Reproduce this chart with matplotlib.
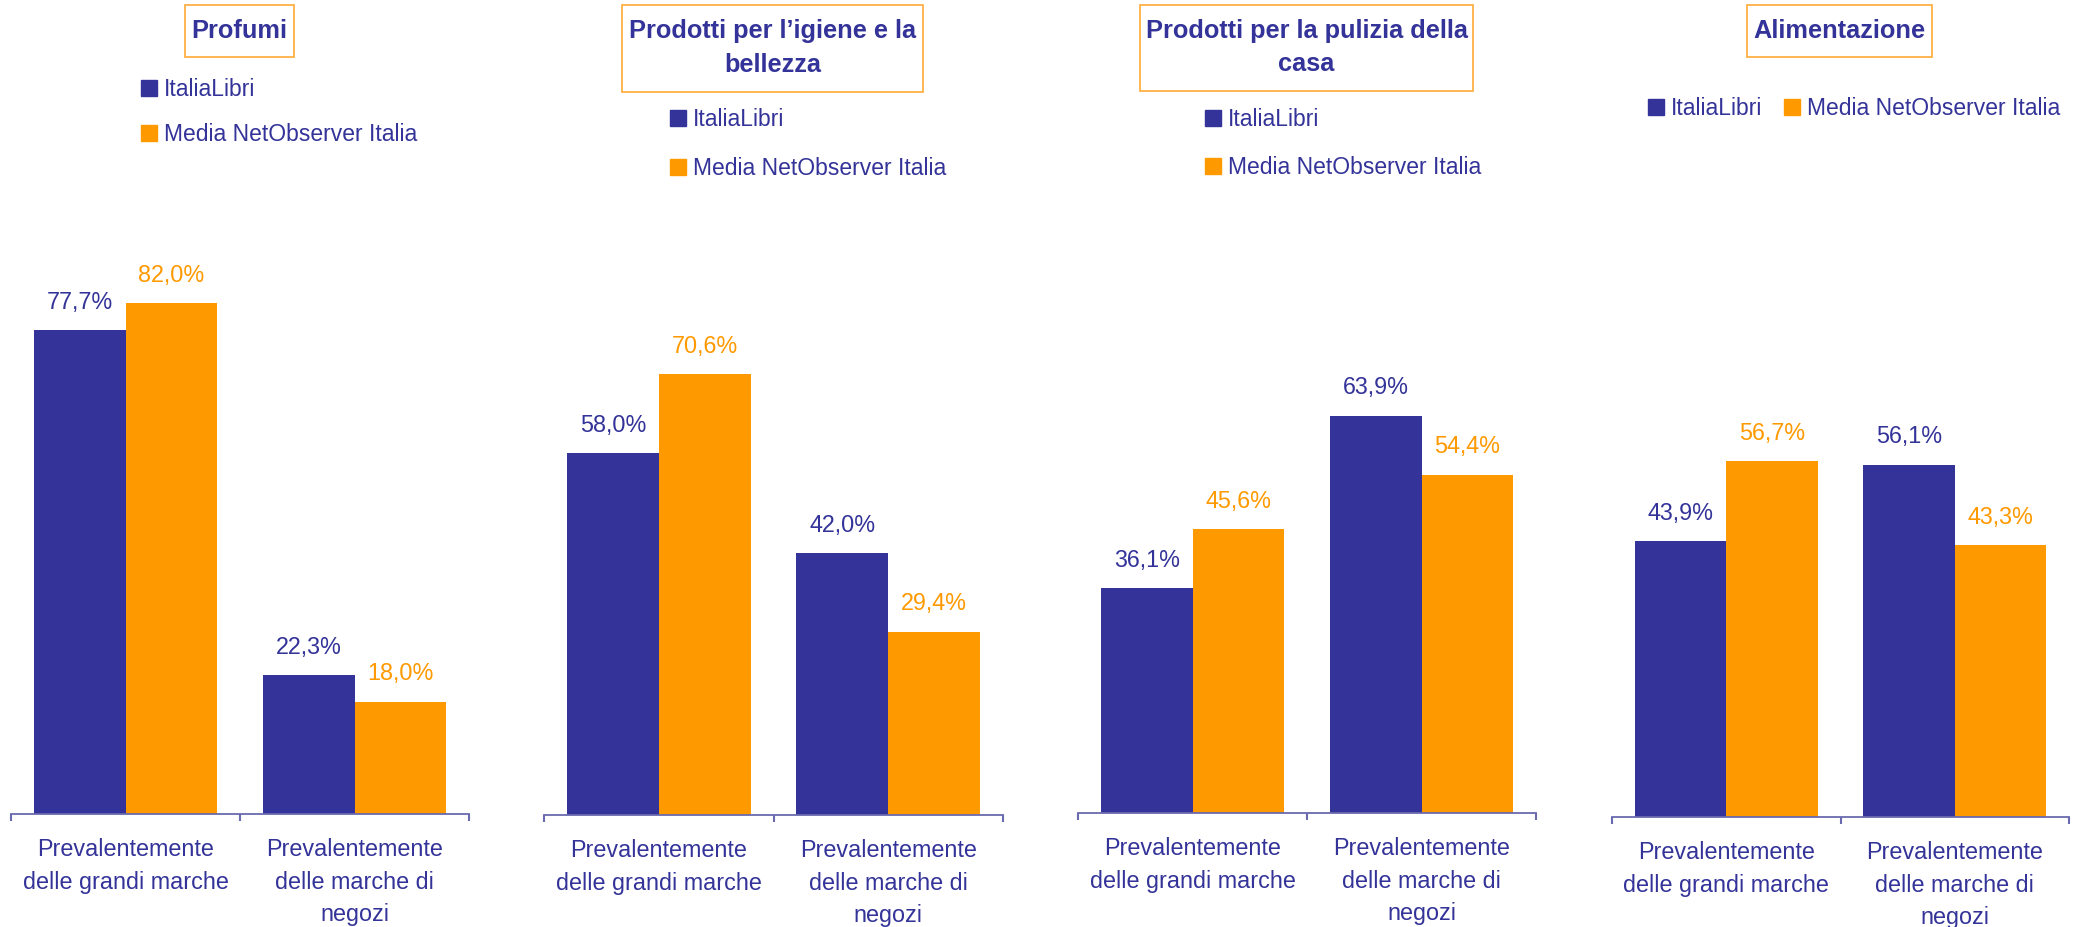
import matplotlib
matplotlib.use('agg')
from matplotlib import pyplot
from matplotlib import rcParams
from matplotlib.patches import Patch, Rectangle

rcParams['font.family'] = ['Liberation Sans', 'DejaVu Sans']

# data
titles = ['Profumi', 'Prodotti per l\u2019igiene e la\nbellezza',
          'Prodotti per la pulizia della\ncasa', 'Alimentazione']
categories = ['Prevalentemente\ndelle grandi marche',
              'Prevalentemente\ndelle marche di\nnegozi']
series_names = ['ItaliaLibri', 'Media NetObserver Italia']
italialibri = [[77.7, 22.3], [58.0, 42.0], [36.1, 63.9], [43.9, 56.1]]
media_netobserver = [[82.0, 18.0], [70.6, 29.4], [45.6, 54.4], [56.7, 43.3]]

BLUE = '#333399'
ORANGE = '#FF9900'
AXIS = '#6a6ab0'
W, H = 2076, 927

# layout in pixels: axes x0, x1, baseline y, px per percent
panels = [(11, 469, 814, 6.23), (544, 1003, 815, 6.24),
          (1078, 1536, 813, 6.22), (1612, 2069, 817, 6.28)]
# title boxes: x0, x1, y0, y1
boxes = [(185, 294, 5, 57), (622, 923, 5, 92), (1140, 1473, 5, 91), (1747, 1932, 5, 57)]
# legend anchors (upper left, px), columns, row spacing
legends = [(141, 78, 1, 0.95), (670, 108, 1, 1.15), (1205, 108, 1, 1.1), (1648, 97, 2, 1.0)]

fig = pyplot.figure(figsize=(W / 100, H / 100), dpi=100)

def fmt(v):
  return ('%.1f%%' % v).replace('.', ',')

for i in range(4):
  x0, x1, base, scale = panels[i]
  hpx = 100 * scale
  ax = fig.add_axes([x0 / W, 1 - base / H, (x1 - x0) / W, hpx / H])
  pos = [0, 1]
  b1 = ax.bar([p - 0.2 for p in pos], italialibri[i], 0.4, color=BLUE)
  b2 = ax.bar([p + 0.2 for p in pos], media_netobserver[i], 0.4, color=ORANGE)
  ax.bar_label(b1, labels=[fmt(v) for v in italialibri[i]], padding=11.8,
               color=BLUE, fontsize=16.8)
  ax.bar_label(b2, labels=[fmt(v) for v in media_netobserver[i]], padding=11.8,
               color=ORANGE, fontsize=16.8)
  ax.set_xlim(-0.5, 1.5)
  ax.set_ylim(0, 100)
  for s in ['top', 'right', 'left']:
    ax.spines[s].set_visible(False)
  ax.spines['bottom'].set_color(AXIS)
  ax.spines['bottom'].set_linewidth(1.3)
  ax.set_yticks([])
  ax.set_xticks(pos)
  ax.set_xticklabels(categories, color=BLUE, fontsize=16.8, linespacing=1.55, va='top')
  ax.tick_params(axis='x', which='major', length=0, pad=17)
  ax.set_xticks([-0.5, 0.5, 1.5], minor=True)
  ax.tick_params(axis='x', which='minor', length=5, width=1.5, color=AXIS, direction='out')

  # title box
  bx0, bx1, by0, by1 = boxes[i]
  fig.patches.append(Rectangle((bx0 / W, 1 - by1 / H), (bx1 - bx0) / W, (by1 - by0) / H,
                               transform=fig.transFigure, fill=False,
                               edgecolor='#FFAA33', linewidth=1.2))
  fig.text((bx0 + bx1) / 2 / W, 1 - (by0 + by1 - 1) / 2 / H, titles[i], ha='center',
           va='center', fontsize=18.3, fontweight='bold', color=BLUE, linespacing=1.5)

  lx, ly, ncol, lsp = legends[i]
  handles = [Patch(color=BLUE), Patch(color=ORANGE)]
  leg = ax.legend(handles, series_names, loc='upper left', ncol=ncol,
                  bbox_to_anchor=(lx / W, 1 - ly / H), bbox_transform=fig.transFigure,
                  frameon=False, fontsize=16.5, handlelength=0.7, handleheight=0.7,
                  handletextpad=0.3, labelspacing=lsp, columnspacing=0.95,
                  borderpad=0, borderaxespad=0)
  for t in leg.get_texts():
    t.set_color(BLUE)

fig.savefig('out.png', dpi=100)
